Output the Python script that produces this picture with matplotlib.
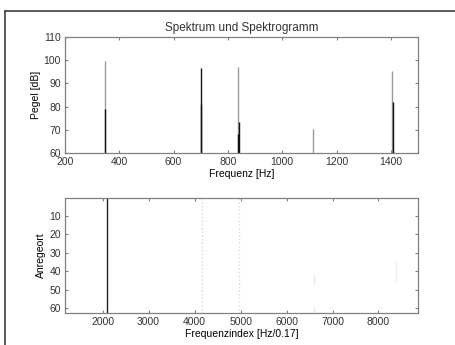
import matplotlib
matplotlib.use("Agg")
import matplotlib.pyplot as plt
from matplotlib.lines import Line2D

# spectrum: line peaks (Hz, dB)
gray_freq = [347, 836, 1115, 1405]
gray_level = [99.8, 97.0, 70.5, 95.5]
black_freq = [349, 700, 701, 839, 838, 1409, 1407]
black_level = [79.0, 96.5, 81.0, 73.5, 68.0, 82.0, 61.0]

# spectrogram: frequency index of visible lines, row spans, shade
sg_index = [2085, 4150, 4965, 6590, 6590, 8390]
sg_row_from = [0.5, 0.5, 0.5, 42, 59, 35]
sg_row_to = [62.5, 62.5, 62.5, 47, 62.5, 45]
sg_color = ["#202020", "#dadada", "#dadada", "#e8e8e8", "#e8e8e8", "#eeeeee"]
sg_style = ["-", ":", ":", "-", "-", "-"]

plt.rcParams["font.family"] = ["Liberation Sans", "DejaVu Sans"]
plt.rcParams["font.size"] = 7.5
plt.rcParams["text.color"] = "#333333"
plt.rcParams["axes.edgecolor"] = "#808080"
plt.rcParams["xtick.color"] = "#808080"
plt.rcParams["ytick.color"] = "#808080"
plt.rcParams["xtick.labelcolor"] = "#333333"
plt.rcParams["ytick.labelcolor"] = "#333333"

fig = plt.figure(figsize=(4.55, 3.45), dpi=100)
W, H = 455.0, 345.0

# frame lines (left and top)
fig.add_artist(Line2D([5 / W, 5 / W], [0, 1 - 11 / H], color="#404040", lw=1.2))
fig.add_artist(Line2D([5 / W, 1], [1 - 11 / H, 1 - 11 / H], color="#404040", lw=1.2))

ax1 = fig.add_axes([65 / W, 1 - 153 / H, (418 - 65) / W, (153 - 37) / H])
ax2 = fig.add_axes([65 / W, 1 - 313 / H, (418 - 65) / W, (313 - 198) / H])

ax1.vlines(gray_freq, 60, gray_level, color="#9a9a9a", lw=1.0)
ax1.vlines(black_freq, 60, black_level, color="#111111", lw=1.0)
ax1.set_xlim(200, 1500)
ax1.set_ylim(60, 110)
ax1.set_xticks([200, 400, 600, 800, 1000, 1200, 1400])
ax1.set_yticks([60, 70, 80, 90, 100, 110])
ax1.set_xlabel("Frequenz [Hz]", labelpad=1)
ax1.set_ylabel("Pegel [dB]", labelpad=2)
ax1.set_title("Spektrum und Spektrogramm", fontsize=8.5, pad=4)

for x, y0, y1, c, ls in zip(sg_index, sg_row_from, sg_row_to, sg_color, sg_style):
    ax2.vlines(x, y0, y1, colors=c, linestyles=ls, lw=1.0)
ax2.set_xlim(1180, 8860)
ax2.set_ylim(62.5, 0.5)
ax2.set_xticks([2000, 3000, 4000, 5000, 6000, 7000, 8000])
ax2.set_yticks([10, 20, 30, 40, 50, 60])
ax2.set_xlabel("Frequenzindex [Hz/0.17]", labelpad=1)
ax2.set_ylabel("Anregeort", labelpad=2)

for ax in (ax1, ax2):
    ax.tick_params(direction="in", length=2.5, width=0.8, top=True, right=True)
    ax.tick_params(axis="x", pad=3)
    ax.tick_params(axis="y", pad=3)
    for s in ax.spines.values():
        s.set_linewidth(0.9)

fig.savefig("out.png", dpi=100)
